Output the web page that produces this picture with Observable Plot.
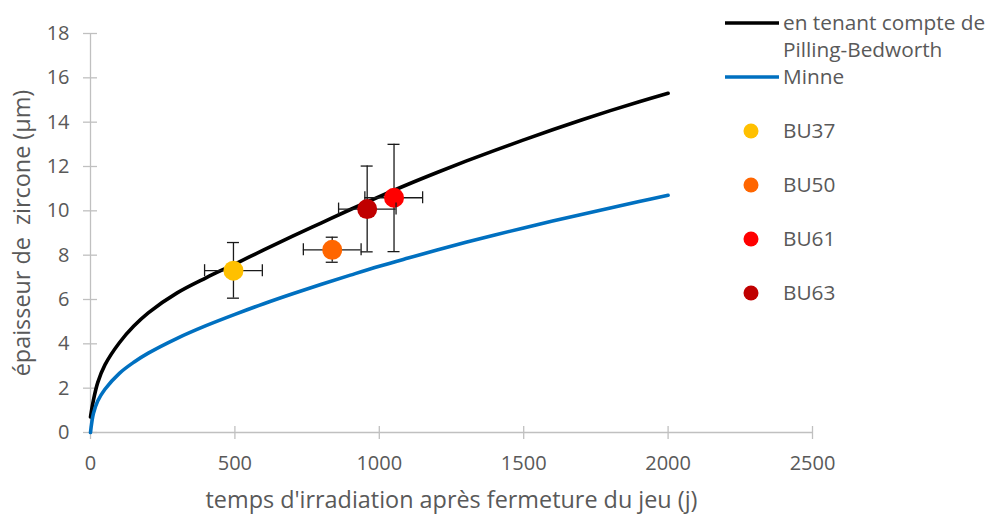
<!DOCTYPE html>
<html><head><meta charset="utf-8">
<script src="https://cdn.jsdelivr.net/npm/d3@7"></script>
<script src="https://cdn.jsdelivr.net/npm/@observablehq/plot@0.6"></script>
<style>
html,body{margin:0;padding:0;background:#fff;}
#chart{position:relative;width:989px;height:515px;}
</style>
</head><body><div id="chart"></div>
<script>
// ---- data ----
const curveX   = [0, 10, 25, 50, 100, 150, 200, 300, 400, 500, 600, 700, 800, 900, 1000, 1100, 1200, 1300, 1400, 1500, 1600, 1700, 1800, 1900, 2000];
const pillingY = [0.7, 1.45, 2.25, 3.05, 4.05, 4.8, 5.4, 6.3, 6.98, 7.6, 8.24, 8.86, 9.46, 10.06, 10.64, 11.2, 11.73, 12.24, 12.73, 13.2, 13.66, 14.1, 14.52, 14.92, 15.3];
const minneY   = [0, 0.85, 1.42, 1.95, 2.67, 3.17, 3.58, 4.25, 4.82, 5.33, 5.81, 6.26, 6.69, 7.1, 7.5, 7.87, 8.23, 8.58, 8.91, 9.23, 9.54, 9.84, 10.13, 10.42, 10.7];
const samples  = ["BU37", "BU50", "BU61", "BU63"];
const sampleX  = [495, 837, 1051, 958];
const sampleY  = [7.3, 8.24, 10.59, 10.08];
const xErrLow  = [395, 737, 950, 859];
const xErrHigh = [595, 937, 1150, 1058];
const yErrLow  = [6.06, 7.68, 8.16, 8.15];
const yErrHigh = [8.57, 8.81, 13.0, 12.02];
const sampleColors = ["#FFC000", "#FF6600", "#FF0000", "#C00000"];
const seriesNames = ["en tenant compte de\nPilling-Bedworth", "Minne"];
const seriesColors = ["#000000", "#0070C0"];
const xTicks = [0, 500, 1000, 1500, 2000, 2500];
const yTicks = [0, 2, 4, 6, 8, 10, 12, 14, 16, 18];
const xLabel = "temps d'irradiation après fermeture du jeu (j)";
const yLabel = "épaisseur de  zircone (µm)";

const pilling = curveX.map((x, i) => ({x, y: pillingY[i]}));
const minne = curveX.map((x, i) => ({x, y: minneY[i]}));
const pts = samples.map((s, i) => ({s, x: sampleX[i], y: sampleY[i], x1: xErrLow[i], x2: xErrHigh[i], y1: yErrLow[i], y2: yErrHigh[i], c: sampleColors[i]}));

const font = "'Open Sans', sans-serif";
const textGray = "#595959";
const axisGray = "#C0C0C0";
const errColor = "#1a1a1a";
const marks = [
  Plot.ruleY([0], {stroke: axisGray, strokeWidth: 1.3}),
  Plot.ruleX([0], {stroke: axisGray, strokeWidth: 1.3}),
  Plot.ruleX(xTicks, {x: d => d, y1: 0, y2: 0, insetTop: -6, insetBottom: -7, stroke: axisGray, strokeWidth: 1.3}),
  Plot.ruleY(yTicks, {y: d => d, x1: 0, x2: 0, insetLeft: -7, insetRight: -7, stroke: axisGray, strokeWidth: 1.3}),
  Plot.axisX({ticks: xTicks, tickSize: 0, tickPadding: 23, tickFormat: d => String(d), label: null, fontSize: 20}),
  Plot.axisY({ticks: yTicks, tickSize: 0, tickPadding: 21, tickFormat: d => String(d), label: null, fontSize: 20}),
  Plot.text([xLabel], {frameAnchor: "bottom", dy: 68, lineAnchor: "middle", textAnchor: "middle", fontSize: 23.4, fill: textGray}),
  Plot.text([yLabel], {frameAnchor: "left", dx: -68, rotate: -90, lineAnchor: "middle", textAnchor: "middle", fontSize: 23.4, fill: textGray}),
  Plot.line(pilling, {x: "x", y: "y", stroke: seriesColors[0], strokeWidth: 3.6, curve: "catmull-rom"}),
  Plot.line(minne, {x: "x", y: "y", stroke: seriesColors[1], strokeWidth: 3.6, curve: "catmull-rom"})
];
pts.forEach(p => {
  const d = [p];
  marks.push(
    Plot.ruleY(d, {y: "y", x1: "x1", x2: "x2", stroke: errColor, strokeWidth: 1.3}),
    Plot.ruleX(d, {x: "x", y1: "y1", y2: "y2", stroke: errColor, strokeWidth: 1.3}),
    Plot.ruleX(d, {x: "x1", y1: "y", y2: "y", insetTop: -6, insetBottom: -6, stroke: errColor, strokeWidth: 1.3}),
    Plot.ruleX(d, {x: "x2", y1: "y", y2: "y", insetTop: -6, insetBottom: -6, stroke: errColor, strokeWidth: 1.3}),
    Plot.ruleY(d, {y: "y1", x1: "x", x2: "x", insetLeft: -6, insetRight: -6, stroke: errColor, strokeWidth: 1.3}),
    Plot.ruleY(d, {y: "y2", x1: "x", x2: "x", insetLeft: -6, insetRight: -6, stroke: errColor, strokeWidth: 1.3}),
    Plot.dot(d, {x: "x", y: "y", r: 10, fill: "c", stroke: "none"})
  );
});

const plot = Plot.plot({
  width: 989, height: 515,
  marginLeft: 90, marginRight: 177, marginTop: 33, marginBottom: 83,
  x: {domain: [0, 2500]},
  y: {domain: [0, 18]},
  style: {fontFamily: font, fontSize: "20px", color: textGray, background: "#fff", overflow: "visible"},
  marks
});
document.getElementById("chart").appendChild(plot);

// legend (right side)
const svg = d3.select(plot);
const lg = svg.append("g").attr("font-family", font).attr("font-size", 20.8)
  .attr("fill", textGray).attr("text-anchor", "start");
const lineRows = [[23, 50], [77]];
seriesNames.forEach((name, i) => {
  const ys = lineRows[i];
  lg.append("line").attr("x1", 725).attr("x2", 779).attr("y1", ys[0]).attr("y2", ys[0])
    .attr("stroke", seriesColors[i]).attr("stroke-width", 3.6);
  name.split("\n").forEach((t, j) => {
    lg.append("text").attr("x", 783).attr("y", ys[j]).attr("dy", "0.35em").text(t);
  });
});
samples.forEach((s, i) => {
  const y = 131 + i * 54;
  lg.append("circle").attr("cx", 751).attr("cy", y).attr("r", 7.5).attr("fill", sampleColors[i]);
  lg.append("text").attr("x", 783).attr("y", y).attr("dy", "0.35em").text(s);
});
</script>
</body></html>
